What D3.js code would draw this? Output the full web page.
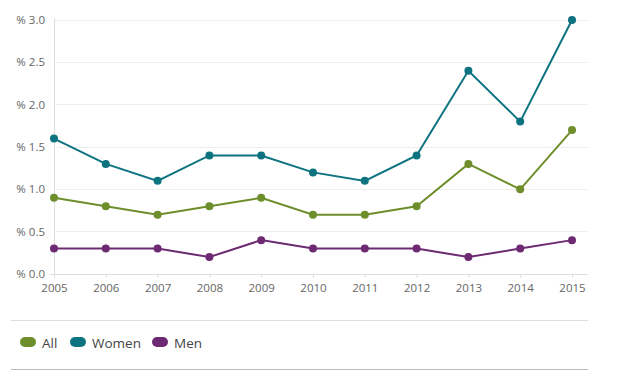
<!DOCTYPE html>
<html><head><meta charset="utf-8">
<script src="https://cdn.jsdelivr.net/npm/d3@7"></script>
<style>body{margin:0;background:#fff;font-family:"Open Sans",Arial,sans-serif;}</style>
</head><body><svg id="c" width="632" height="382"></svg>
<script>
const years = [2005,2006,2007,2008,2009,2010,2011,2012,2013,2014,2015];
const allVals = [0.9,0.8,0.7,0.8,0.9,0.7,0.7,0.8,1.3,1.0,1.7];
const womenVals = [1.6,1.3,1.1,1.4,1.4,1.2,1.1,1.4,2.4,1.8,3.0];
const menVals = [0.3,0.3,0.3,0.2,0.4,0.3,0.3,0.3,0.2,0.3,0.4];
const yTicks = [0,0.5,1.0,1.5,2.0,2.5,3.0];
const seriesNames = ["All","Women","Men"];
const colors = ["#6e8e2b","#0e7380","#6d2a73"];

const svg = d3.select("#c");
const x = d3.scaleLinear().domain([2005,2015]).range([54,572]);
const y = d3.scaleLinear().domain([0,3]).range([274,20]);

svg.append("g").selectAll("line").data(yTicks.filter(d=>d>0)).join("line")
  .attr("x1",54).attr("x2",588).attr("y1",d=>y(d)).attr("y2",d=>y(d))
  .attr("stroke","#eeeeee").attr("stroke-width",1).attr("shape-rendering","crispEdges");
svg.append("line").attr("x1",54).attr("x2",54).attr("y1",y(3)-2).attr("y2",278)
  .attr("stroke","#dddddd").attr("shape-rendering","crispEdges");
svg.append("line").attr("x1",50).attr("x2",588).attr("y1",y(0)).attr("y2",y(0))
  .attr("stroke","#dddddd").attr("shape-rendering","crispEdges");

svg.append("g").selectAll("text").data(yTicks).join("text")
  .attr("x",45).attr("y",d=>y(d)+4).attr("text-anchor","end")
  .attr("font-size",11.5).attr("fill","#666")
  .text(d=>"% "+d.toFixed(1));

const xAxis = d3.axisBottom(x).tickValues(years).tickFormat(d3.format("d")).tickSize(4).tickPadding(6);
const gx = svg.append("g").attr("transform",`translate(0,${y(0)})`).call(xAxis);
gx.select(".domain").remove();
gx.selectAll(".tick line").attr("stroke","#dddddd");
gx.selectAll(".tick text").attr("font-size",11.5).attr("fill","#666").attr("font-family","'Open Sans',Arial,sans-serif");

const data = [allVals, womenVals, menVals];
const line = d3.line().x((d,i)=>x(years[i])).y(d=>y(d));
data.forEach((vals,k)=>{
  svg.append("path").datum(vals).attr("d",line).attr("fill","none")
    .attr("stroke",colors[k]).attr("stroke-width",2);
  svg.append("g").selectAll("circle").data(vals).join("circle")
    .attr("cx",(d,i)=>x(years[i])).attr("cy",d=>y(d)).attr("r",4)
    .attr("fill",colors[k]);
});

svg.append("line").attr("x1",11).attr("x2",588).attr("y1",320.5).attr("y2",320.5).attr("stroke","#dddddd");
svg.append("line").attr("x1",11).attr("x2",588).attr("y1",369.5).attr("y2",369.5).attr("stroke","#bbbbbb");

const legX = [20, 70, 152];
seriesNames.forEach((n,k)=>{
  const g = svg.append("g").attr("transform",`translate(${legX[k]},337)`);
  g.append("rect").attr("width",16).attr("height",10).attr("rx",5).attr("fill",colors[k]);
  g.append("text").attr("x",22).attr("y",11).attr("font-size",13.5).attr("fill","#444").text(n);
});
</script></body></html>
